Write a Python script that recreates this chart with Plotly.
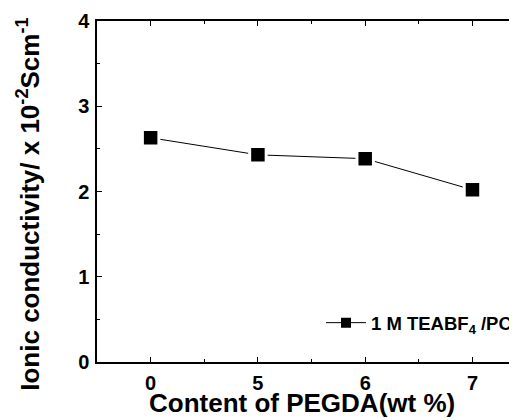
import plotly.graph_objects as go
import numpy as np

categories = ["0", "5", "6", "7"]
conductivity = [2.63, 2.43, 2.385, 2.02]
y_ticks = [0, 1, 2, 3, 4]
series_name = "1 M TEABF<sub>4</sub> /PC"
x_title = "Content of PEGDA(wt %)"
y_title = "Ionic conductivity/ x 10<sup>-2</sup>Scm<sup>-1</sup>"

xpos = list(range(len(categories)))
FONT = "Liberation Sans"

fig = go.Figure()
fig.add_trace(go.Scatter(
    x=xpos, y=conductivity, mode="lines+markers", showlegend=False,
    line=dict(color="black", width=1),
    marker=dict(symbol="square", size=16.5, color="black",
                line=dict(color="white", width=3)),
))
fig.add_trace(go.Scatter(
    x=[None], y=[None], mode="lines+markers", name=series_name,
    line=dict(color="black", width=1),
    marker=dict(symbol="square", size=10, color="black"),
))

# page body has an 8px default margin, so the figure is 8px smaller than the window
fig.update_layout(
    width=509, height=412,
    margin=dict(l=88.5, t=12.5, r=0, b=58, pad=0, autoexpand=False),
    paper_bgcolor="white", plot_bgcolor="white",
    font=dict(family=FONT, color="black", weight="bold", size=17),
    showlegend=True,
    legend=dict(x=1.0, xanchor="right", y=0.114, yanchor="middle",
                bgcolor="rgba(0,0,0,0)", borderwidth=0,
                font=dict(size=18.5, family=FONT, weight="bold"),
                itemwidth=40, tracegroupgap=0),
    annotations=[
        dict(text=x_title, xref="paper", yref="paper", x=0.4887, y=-0.12,
             xanchor="center", yanchor="middle", showarrow=False,
             font=dict(size=26, family=FONT, weight="bold", color="black")),
        dict(text=y_title, xref="paper", yref="paper", x=-0.163, y=0.4627,
             xanchor="center", yanchor="middle", showarrow=False, textangle=-90,
             font=dict(size=26, family=FONT, weight="bold", color="black")),
    ],
)

fig.update_xaxes(
    range=[-0.5, 3.415], automargin=False,
    tickmode="array", tickvals=xpos, ticktext=categories,
    ticks="inside", ticklen=5, tickwidth=1, tickcolor="black",
    minor=dict(tickvals=list(np.array(xpos[:-1]) + 0.5) + [-0.5], ticks="inside", ticklen=3, tickwidth=1, tickcolor="black"),
    showline=True, linewidth=1.5, linecolor="black", mirror="ticks",
    showgrid=False, zeroline=False,
    tickfont=dict(size=20, family=FONT, weight="bold", color="black"),
    ticklabelstandoff=2,
)
fig.update_yaxes(
    range=[0, 4], automargin=False,
    tickmode="array", tickvals=y_ticks,
    ticks="inside", ticklen=5, tickwidth=1, tickcolor="black",
    minor=dict(dtick=0.5, tick0=0, ticks="inside", ticklen=3, tickwidth=1, tickcolor="black"),
    showline=True, linewidth=1.5, linecolor="black", mirror=False,
    showgrid=False, zeroline=False,
    tickfont=dict(size=20, family=FONT, weight="bold", color="black"),
    ticklabelstandoff=2,
)

fig.write_html("out.html")
